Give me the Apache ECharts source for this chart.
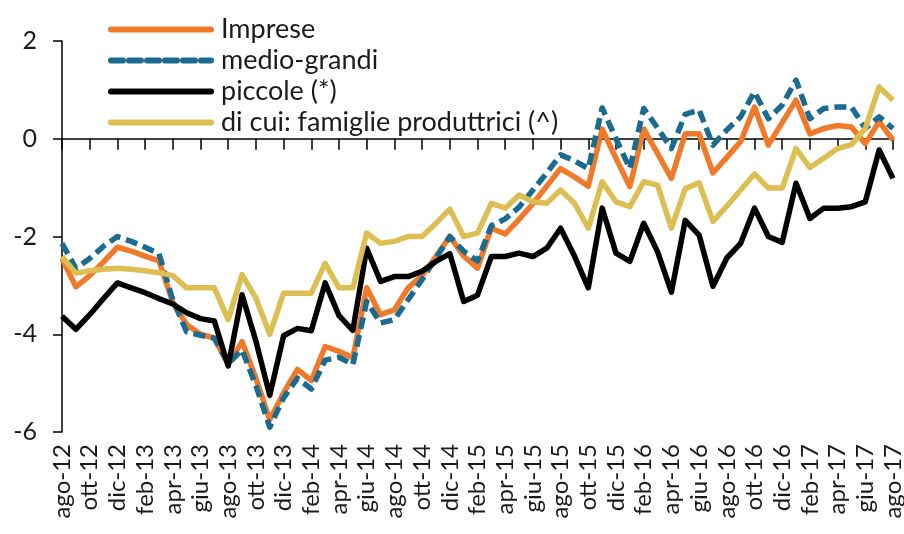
<!DOCTYPE html>
<html>
<head>
<meta charset="utf-8">
<script src="https://cdn.jsdelivr.net/npm/echarts@6/dist/echarts.min.js"></script>
<style>
html,body{margin:0;padding:0;background:#fff;}
#chart{width:904px;height:534px;}
</style>
</head>
<body>
<div id="chart"></div>
<script>
var months = ['ago-12','set-12','ott-12','nov-12','dic-12','gen-13','feb-13','mar-13','apr-13','mag-13','giu-13','lug-13',
  'ago-13','set-13','ott-13','nov-13','dic-13','gen-14','feb-14','mar-14','apr-14','mag-14','giu-14','lug-14',
  'ago-14','set-14','ott-14','nov-14','dic-14','gen-15','feb-15','mar-15','apr-15','mag-15','giu-15','lug-15',
  'ago-15','set-15','ott-15','nov-15','dic-15','gen-16','feb-16','mar-16','apr-16','mag-16','giu-16','lug-16',
  'ago-16','set-16','ott-16','nov-16','dic-16','gen-17','feb-17','mar-17','apr-17','mag-17','giu-17','lug-17','ago-17'];

var imprese = [-2.45,-3.03,-2.8,-2.52,-2.22,-2.3,-2.4,-2.5,-3.35,-3.8,-4.0,-4.08,
  -4.62,-4.15,-4.9,-5.75,-5.2,-4.72,-4.95,-4.25,-4.35,-4.48,-3.05,-3.6,
  -3.5,-3.05,-2.8,-2.41,-2.0,-2.4,-2.65,-1.83,-1.95,-1.65,-1.33,-0.97,
  -0.61,-0.78,-0.97,0.2,-0.4,-0.98,0.2,-0.3,-0.81,0.1,0.1,-0.7,
  -0.38,-0.06,0.65,-0.13,0.33,0.79,0.1,0.21,0.27,0.24,-0.1,0.35,-0.03];

var medioGrandi = [-2.14,-2.65,-2.45,-2.2,-2.0,-2.1,-2.22,-2.35,-3.3,-3.95,-4.02,-4.08,
  -4.6,-4.32,-5.05,-5.9,-5.3,-4.9,-5.12,-4.53,-4.47,-4.62,-3.33,-3.77,
  -3.7,-3.29,-2.88,-2.44,-2.0,-2.3,-2.5,-1.78,-1.64,-1.4,-1.05,-0.7,
  -0.33,-0.45,-0.61,0.63,0.0,-0.61,0.62,0.22,-0.2,0.5,0.59,-0.13,
  0.18,0.45,0.96,0.41,0.69,1.2,0.41,0.62,0.65,0.65,0.21,0.45,0.21];

var piccole = [-3.63,-3.9,-3.6,-3.27,-2.95,-3.05,-3.15,-3.27,-3.38,-3.56,-3.68,-3.73,
  -4.65,-3.19,-4.14,-5.25,-4.03,-3.88,-3.93,-2.95,-3.62,-3.92,-2.24,-2.92,
  -2.82,-2.82,-2.71,-2.51,-2.35,-3.33,-3.2,-2.41,-2.41,-2.34,-2.41,-2.24,
  -1.83,-2.4,-3.05,-1.42,-2.34,-2.51,-1.73,-2.31,-3.14,-1.67,-1.97,-3.02,
  -2.44,-2.14,-1.42,-2.0,-2.12,-0.91,-1.63,-1.42,-1.42,-1.39,-1.29,-0.23,-0.81];

var famiglie = [-2.41,-2.75,-2.7,-2.67,-2.65,-2.67,-2.7,-2.74,-2.8,-3.05,-3.05,-3.05,
  -3.7,-2.78,-3.26,-4.0,-3.16,-3.16,-3.16,-2.55,-3.05,-3.05,-1.93,-2.14,
  -2.1,-2.0,-2.0,-1.73,-1.44,-2.0,-1.93,-1.32,-1.42,-1.15,-1.29,-1.32,
  -1.05,-1.32,-1.83,-0.88,-1.29,-1.39,-0.88,-0.95,-1.83,-1.02,-0.9,-1.69,
  -1.38,-1.05,-0.72,-1.01,-1.01,-0.2,-0.59,-0.4,-0.2,-0.12,0.21,1.06,0.79];

var seriesNames = ['Imprese','medio-grandi','piccole (*)','di cui: famiglie produttrici (^)'];

var FONT = 'Lato, "Open Sans", sans-serif';
var TXT = '#1b1b1b';

function lineSeries(name, data, color, type) {
  return {
    name: name, type: 'line', data: data, xAxisIndex: 0,
    symbol: 'none', showSymbol: false, smooth: false,
    lineStyle: { color: color, width: 5.5, type: type || 'solid', cap: 'butt', join: 'round' },
    itemStyle: { color: color },
    emphasis: { disabled: true },
    animation: false
  };
}

var chart = echarts.init(document.getElementById('chart'), null, { renderer: 'canvas' });
chart.setOption({
  animation: false,
  backgroundColor: '#fff',
  grid: { left: 62, right: 11, top: 41, bottom: 102, containLabel: false, outerBoundsMode: 'none' },
  legend: {
    data: seriesNames,
    orient: 'vertical',
    left: 103, top: 9,
    itemWidth: 100, itemHeight: 14, itemGap: 0,
    itemStyle: { opacity: 0, borderWidth: 0 },
    lineStyle: { width: 6, cap: 'round' },
    textStyle: { fontFamily: FONT, fontSize: 27, color: TXT, lineHeight: 31, padding: [0, 0, 0, 5] },
    selectedMode: false
  },
  xAxis: [
    {
      type: 'category', data: months, boundaryGap: false, position: 'bottom',
      axisLine: { show: true, onZero: true, lineStyle: { color: '#000', width: 1.5 } },
      axisTick: { show: true, interval: 1, length: 11, inside: false, lineStyle: { color: '#000', width: 1.5 } },
      axisLabel: { show: false },
      splitLine: { show: false }
    },
    {
      type: 'category', data: months, boundaryGap: false, position: 'bottom',
      axisLine: { show: false, onZero: false },
      axisTick: { show: false },
      axisLabel: { show: true, interval: 1, rotate: 90, margin: 12, fontFamily: FONT, fontSize: 24, color: TXT },
      splitLine: { show: false }
    }
  ],
  yAxis: {
    type: 'value', min: -6, max: 2, interval: 2,
    axisLine: { show: true, lineStyle: { color: '#000', width: 1.5 } },
    axisTick: { show: true, length: 9, inside: false, lineStyle: { color: '#000', width: 1.5 } },
    axisLabel: { fontFamily: FONT, fontSize: 25, color: TXT, margin: 25 },
    splitLine: { show: false }
  },
  series: [
    lineSeries(seriesNames[0], imprese, '#F07A2A'),
    lineSeries(seriesNames[1], medioGrandi, '#1A6B8F', [12, 6]),
    lineSeries(seriesNames[2], piccole, '#000000'),
    lineSeries(seriesNames[3], famiglie, '#DCBE52')
  ]
});
</script>
</body>
</html>
